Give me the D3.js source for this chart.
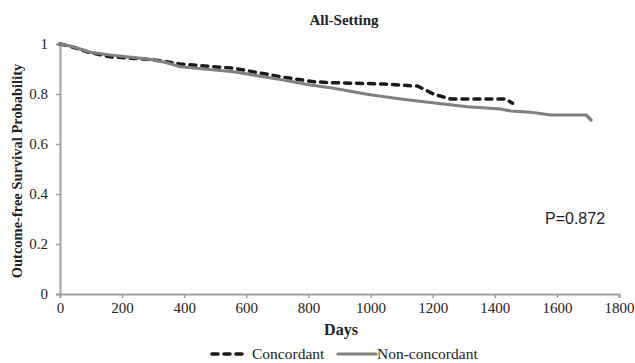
<!DOCTYPE html>
<html>
<head>
<meta charset="utf-8">
<script src="https://cdn.jsdelivr.net/npm/d3@7"></script>
<style>
  body { margin: 0; background: #fff; }
  svg text { font-family: "Liberation Serif", "Times New Roman", serif; }
</style>
</head>
<body>
<div id="chart"></div>
<script>
// survival curves (days, probability)
const concDays = [0, 40, 97, 161, 290, 344, 387, 559, 720, 817, 881, 1043, 1129, 1151, 1204, 1258, 1435, 1457];
const concVals = [1.0, 0.988, 0.965, 0.949, 0.938, 0.929, 0.92, 0.903, 0.867, 0.849, 0.845, 0.84, 0.833, 0.832, 0.799, 0.78, 0.78, 0.763];

const nonDays = [0, 43, 97, 161, 290, 344, 387, 559, 720, 806, 881, 989, 1097, 1171, 1312, 1419, 1452, 1516, 1581, 1694, 1710];
const nonVals = [1.0, 0.989, 0.967, 0.956, 0.939, 0.925, 0.909, 0.889, 0.856, 0.836, 0.823, 0.799, 0.78, 0.769, 0.749, 0.74, 0.732, 0.727, 0.716, 0.716, 0.696];

const xTicks = [0, 200, 400, 600, 800, 1000, 1200, 1400, 1600, 1800];
const yTicks = [0, 0.2, 0.4, 0.6, 0.8, 1];

const W = 635, H = 363;
const m = {left: 60, right: 16, top: 44, bottom: 69};

const svg = d3.select("#chart").append("svg")
    .attr("width", W).attr("height", H);

const x = d3.scaleLinear().domain([0, 1800]).range([m.left, W - m.right]);
const y = d3.scaleLinear().domain([0, 1]).range([H - m.bottom, m.top]);

const axisColor = "#a0a0a0";

// axes
const gx = svg.append("g")
    .attr("transform", `translate(0,${y(0)})`)
    .call(d3.axisBottom(x).tickValues(xTicks).tickSize(4).tickPadding(4).tickFormat(d3.format("d")));
const gy = svg.append("g")
    .attr("transform", `translate(${x(0)},0)`)
    .call(d3.axisLeft(y).tickValues(yTicks).tickSize(4).tickPadding(8).tickFormat(d => d === 0 || d === 1 ? d : d3.format(".1f")(d)));

[gx, gy].forEach(g => {
  g.select(".domain").attr("stroke", axisColor).attr("stroke-width", 2);
  g.selectAll(".tick line").attr("stroke", axisColor).attr("stroke-width", 1.5);
  g.selectAll(".tick text").attr("fill", "#222").style("font-size", "15px")
    .style("font-family", '"Liberation Serif", serif');
});

const line = d3.line().x(d => x(d[0])).y(d => y(d[1]));

const conc = concDays.map((d, i) => [d, concVals[i]]);
const non = nonDays.map((d, i) => [d, nonVals[i]]);

svg.append("path").datum(conc)
    .attr("d", line)
    .attr("fill", "none")
    .attr("stroke", "#1a1a1a")
    .attr("stroke-width", 3.5)
    .attr("stroke-linecap", "round")
    .attr("stroke-dasharray", "6,6");

svg.append("path").datum(non)
    .attr("d", line)
    .attr("fill", "none")
    .attr("stroke", "#808080")
    .attr("stroke-width", 3.2)
    .attr("stroke-linejoin", "round")
    .attr("stroke-linecap", "round");

// titles
svg.append("text")
    .attr("x", 344).attr("y", 25)
    .attr("text-anchor", "middle")
    .style("font-weight", "bold").style("font-size", "15px")
    .attr("fill", "#222")
    .text("All-Setting");

svg.append("text")
    .attr("transform", `translate(22,${(y(0) + y(1)) / 2 + 2}) rotate(-90)`)
    .attr("text-anchor", "middle")
    .style("font-weight", "bold").style("font-size", "14.5px")
    .attr("fill", "#222")
    .text("Outcome-free Survival Probability");

svg.append("text")
    .attr("x", 341).attr("y", 335)
    .attr("text-anchor", "middle")
    .style("font-weight", "bold").style("font-size", "16px")
    .attr("fill", "#222")
    .text("Days");

svg.append("text")
    .attr("x", 545).attr("y", 224)
    .style("font-family", '"Liberation Sans", Arial, sans-serif')
    .style("font-size", "16px")
    .attr("fill", "#222")
    .text("P=0.872");

// legend
const ly = 354;
svg.append("line")
    .attr("x1", 212).attr("x2", 244).attr("y1", ly).attr("y2", ly)
    .attr("stroke", "#1a1a1a").attr("stroke-width", 3.5)
    .attr("stroke-linecap", "round").attr("stroke-dasharray", "6,6");
svg.append("text")
    .attr("x", 252).attr("y", ly + 5)
    .style("font-size", "15.5px").attr("fill", "#222")
    .text("Concordant");
svg.append("line")
    .attr("x1", 338).attr("x2", 376).attr("y1", ly).attr("y2", ly)
    .attr("stroke", "#808080").attr("stroke-width", 3.2)
    .attr("stroke-linecap", "round");
svg.append("text")
    .attr("x", 377).attr("y", ly + 5)
    .style("font-size", "15.5px").attr("fill", "#222")
    .text("Non-concordant");
</script>
</body>
</html>
